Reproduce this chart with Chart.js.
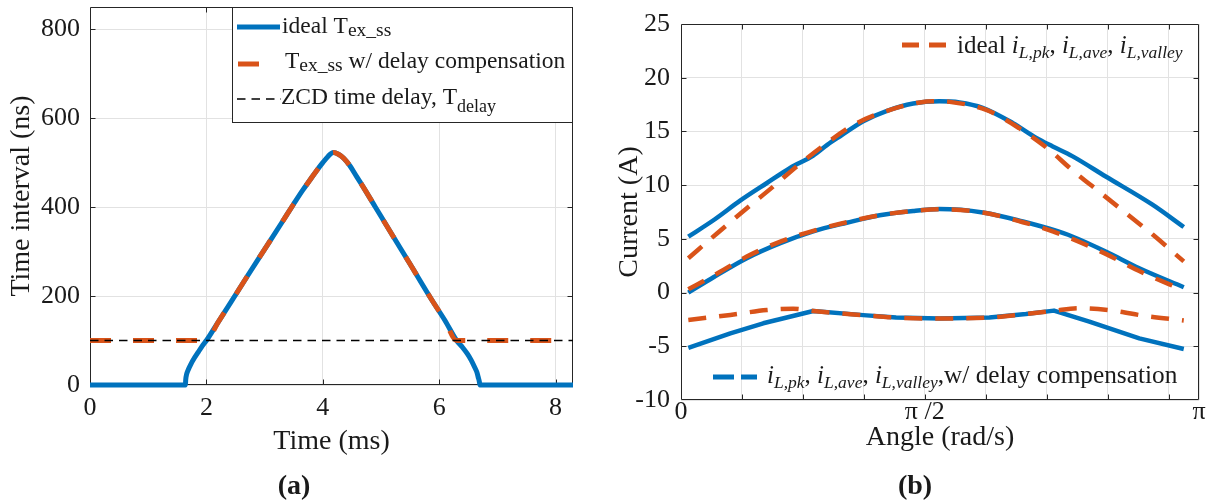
<!DOCTYPE html>
<html>
<head>
<meta charset="utf-8">
<title>Switching interval and inductor current</title>
<script src="https://cdn.jsdelivr.net/npm/chart.js@4.4.1/dist/chart.umd.min.js"></script>
<style>
  html, body { margin: 0; padding: 0; background: #fff; }
  #wrap { position: relative; width: 1211px; height: 504px; overflow: hidden; }
  #left { position: absolute; left: 0; top: 0; }
  #right { position: absolute; left: 600px; top: 0; }
</style>
</head>
<body>
<div id="wrap">
  <canvas id="left" width="600" height="504"></canvas>
  <canvas id="right" width="611" height="504"></canvas>
</div>
<script>
// ---- (a) extended switching interval over one half line cycle ----
const timeMs = [0, 1.64, 1.645, 1.66, 1.69, 1.73, 1.79, 1.86, 1.93, 2.00, 2.20, 2.43, 2.70, 3.00, 3.30, 3.50, 3.65, 3.78, 3.90, 4.00, 4.09, 4.18,
  4.27, 4.36, 4.46, 4.58, 4.72, 4.90, 5.20, 5.50, 5.88, 6.10, 6.30, 6.40, 6.48, 6.55, 6.61, 6.65, 6.67, 6.69, 6.70, 8.30];
const idealTexNs = [0, 0, 12, 24, 35, 46, 60, 74, 88, 100, 141, 188, 244, 305, 366, 407, 437, 461, 483, 500, 514, 523,
  519, 510, 494, 469, 440, 401, 336, 272, 190, 145, 100, 85, 71, 56, 40, 28, 18, 8, 0, 0];
const compTimeMs = [0, 2.00, 2.20, 2.43, 2.70, 3.00, 3.30, 3.50, 3.65, 3.78, 3.90, 4.00, 4.09, 4.18,
  4.27, 4.36, 4.46, 4.58, 4.72, 4.90, 5.20, 5.50, 5.88, 6.10, 6.30, 8.30];
const compTexNs = [100, 100, 141, 188, 244, 305, 366, 407, 437, 461, 483, 500, 514, 523,
  519, 510, 494, 469, 440, 401, 336, 272, 190, 145, 100, 100];
const delayTimeMs = [0, 8.30];
const delayNs = [100, 100];
const timeTicks = [0, 2, 4, 6, 8];
const intervalTicks = [0, 200, 400, 600, 800];

// ---- (b) inductor current envelopes ----
const compPkX = [0.12, 0.55, 0.97, 1.41, 1.79, 2.17, 2.40, 2.61, 2.99, 3.37, 3.81, 4.24, 4.57, 4.95, 5.44, 5.83, 6.10, 6.42, 6.97, 7.73, 8.25];
const compPkA = [5.2, 6.8, 8.55, 10.2, 11.6, 12.75, 13.75, 14.55, 15.95, 16.9, 17.6, 17.8, 17.7, 17.2, 15.8, 14.4, 13.6, 12.7, 10.8, 8.2, 6.1];
const idealPkX = [0.12, 0.59, 1.08, 1.52, 1.90, 2.39, 2.83, 3.37, 3.92, 4.20, 4.41, 5.01, 5.55, 6.04, 6.42, 6.86, 7.30, 7.74, 8.25];
const idealPkA = [3.2, 5.5, 7.85, 9.9, 11.75, 13.9, 15.6, 16.9, 17.7, 17.8, 17.75, 17.0, 15.3, 13.3, 11.4, 9.4, 7.4, 5.4, 2.9];
const compAveX = [0.12, 0.54, 1.08, 1.63, 2.17, 2.72, 3.26, 3.81, 4.24, 4.95, 5.61, 6.10, 6.42, 6.97, 7.52, 8.25];
const compAveA = [0.0, 1.45, 3.2, 4.6, 5.7, 6.5, 7.2, 7.6, 7.77, 7.46, 6.62, 5.85, 5.22, 3.82, 2.27, 0.5];
const idealAveX = [0.12, 0.54, 1.08, 1.63, 2.17, 2.72, 3.26, 3.81, 4.24, 4.95, 5.61, 6.10, 6.42, 6.97, 7.52, 8.25];
const idealAveA = [0.3, 1.6, 3.35, 4.75, 5.75, 6.55, 7.2, 7.6, 7.75, 7.45, 6.55, 5.7, 5.0, 3.6, 2.0, 0.2];
const compValleyX = [0.12, 0.81, 1.35, 2.17, 2.99, 3.53, 4.24, 5.06, 5.66, 6.12, 6.70, 7.52, 8.25];
const compValleyA = [-5.15, -3.8, -2.86, -1.71, -2.1, -2.33, -2.42, -2.32, -2.0, -1.68, -2.7, -4.26, -5.25];
const idealValleyX = [0.12, 0.81, 1.41, 1.84, 2.17, 2.99, 3.53, 4.24, 5.06, 5.66, 6.12, 6.53, 7.08, 7.62, 8.25];
const idealValleyA = [-2.55, -2.08, -1.62, -1.5, -1.72, -2.1, -2.33, -2.42, -2.32, -2.0, -1.7, -1.46, -1.68, -2.18, -2.6];
const angleTicks = [0, 1, 2, 3, 4, 5, 6, 7, 8, 8.5];
const angleTickText = ['0', '', '', '', 'π /2', '', '', '', '', 'π'];
const currentTicks = [-10, -5, 0, 5, 10, 15, 20, 25];

// ---- shared styling ----
const SERIF = "'Liberation Serif', 'Times New Roman', serif";
const INK = '#1a1a1a';
const BLUE = '#0072BD';
const ORANGE = '#D95319';
const GRID = '#e2e2e2';

const pts = (xs, ys) => xs.map((v, i) => ({ x: v, y: ys[i] }));

// Fixed axis footprint: no extra room reserved for edge labels
const fixSize = (key, size) => s => {
  s[key] = size;
  s.paddingTop = 0; s.paddingBottom = 0; s.paddingLeft = 0; s.paddingRight = 0;
};

// Box around the axes with short inward tick marks on all four sides
const axesBox = {
  id: 'axesBox',
  beforeDatasetsDraw(chart) {
    const { ctx, chartArea: a, scales: { x, y } } = chart;
    const L = Math.round(a.left) + 0.5, R = Math.round(a.right) - 0.5;
    const T = Math.round(a.top) + 0.5, B = Math.round(a.bottom) - 0.5;
    const len = 5;
    ctx.save();
    ctx.strokeStyle = '#262626';
    ctx.lineWidth = 1;
    ctx.beginPath();
    ctx.rect(L, T, R - L, B - T);
    x.ticks.forEach(t => {
      const p = Math.round(x.getPixelForValue(t.value)) + 0.5;
      if (p <= L + 1 || p >= R - 1) return;
      ctx.moveTo(p, B); ctx.lineTo(p, B - len);
      ctx.moveTo(p, T); ctx.lineTo(p, T + len);
    });
    y.ticks.forEach(t => {
      const p = Math.round(y.getPixelForValue(t.value)) + 0.5;
      if (p <= T + 1 || p >= B - 1) return;
      ctx.moveTo(L, p); ctx.lineTo(L + len, p);
      ctx.moveTo(R, p); ctx.lineTo(R - len, p);
    });
    ctx.stroke();
    ctx.restore();
  }
};

function strokeSample(ctx, x0, x1, y, color, width, dash) {
  ctx.save();
  ctx.strokeStyle = color;
  ctx.lineWidth = width;
  ctx.lineCap = 'butt';
  ctx.setLineDash(dash);
  ctx.beginPath();
  ctx.moveTo(x0, y);
  ctx.lineTo(x1, y);
  ctx.stroke();
  ctx.restore();
}

// Writes a run of text pieces (regular, italic, subscript) left to right on one baseline
function drawRuns(ctx, x, y, runs) {
  ctx.save();
  ctx.textAlign = 'left';
  ctx.textBaseline = 'alphabetic';
  ctx.fillStyle = INK;
  for (const r of runs) {
    ctx.font = r.f;
    ctx.fillText(r.t, x, y + (r.dy || 0));
    x += ctx.measureText(r.t).width;
  }
  ctx.restore();
  return x;
}

function caption(ctx, text, cx, cy) {
  ctx.save();
  ctx.font = `bold 28px ${SERIF}`;
  ctx.fillStyle = INK;
  ctx.textAlign = 'center';
  ctx.textBaseline = 'middle';
  ctx.fillText(text, cx, cy);
  ctx.restore();
}

const leftLegend = {
  id: 'leftLegend',
  afterDatasetsDraw(chart) {
    const ctx = chart.ctx;
    ctx.save();
    ctx.fillStyle = '#fff';
    ctx.fillRect(232.5, 7.5, 340, 115);
    ctx.strokeStyle = '#262626';
    ctx.lineWidth = 1;
    ctx.strokeRect(232.5, 7.5, 340, 115);
    ctx.restore();
    const main = `23.5px ${SERIF}`, sub = `19.5px ${SERIF}`, subD = `18px ${SERIF}`;
    strokeSample(ctx, 237, 280, 27, BLUE, 5, []);
    drawRuns(ctx, 282, 33, [{ t: 'ideal T', f: main }, { t: 'ex_ss', f: sub, dy: 3 }]);
    strokeSample(ctx, 238, 281, 64, ORANGE, 5, [21, 22]);
    drawRuns(ctx, 285, 68, [{ t: 'T', f: main }, { t: 'ex_ss', f: sub, dy: 3 }, { t: ' w/ delay compensation', f: main }]);
    strokeSample(ctx, 237, 281, 99, '#000', 1.5, [8.5, 6]);
    drawRuns(ctx, 281, 104, [{ t: 'ZCD time delay, T', f: main }, { t: 'delay', f: subD, dy: 8 }]);
  },
  afterDraw(chart) { caption(chart.ctx, '(a)', 294, 487); }
};

const rightLegend = {
  id: 'rightLegend',
  afterDatasetsDraw(chart) {
    const ctx = chart.ctx;
    const reg = `25px ${SERIF}`, it = `italic 25px ${SERIF}`, sub = `italic 17.5px ${SERIF}`;
    strokeSample(ctx, 302, 346, 45, ORANGE, 5, [17, 10]);
    drawRuns(ctx, 357, 53, [
      { t: 'ideal ', f: reg }, { t: 'i', f: it }, { t: 'L,pk', f: sub, dy: 5 }, { t: ', ', f: reg },
      { t: 'i', f: it }, { t: 'L,ave', f: sub, dy: 5 }, { t: ', ', f: reg },
      { t: 'i', f: it }, { t: 'L,valley', f: sub, dy: 5 }
    ]);
    const bigReg = `25.3px ${SERIF}`;
    strokeSample(ctx, 113, 157, 377, BLUE, 5, [21, 7]);
    drawRuns(ctx, 167, 383, [
      { t: 'i', f: it }, { t: 'L,pk', f: sub, dy: 5 }, { t: ', ', f: reg },
      { t: 'i', f: it }, { t: 'L,ave', f: sub, dy: 5 }, { t: ', ', f: reg },
      { t: 'i', f: it }, { t: 'L,valley', f: sub, dy: 5 }, { t: ',w/ delay compensation', f: bigReg }
    ]);
  },
  afterDraw(chart) { caption(chart.ctx, '(b)', 315, 487); }
};

const tickFont = { family: SERIF, size: 26 };
const titleFont = { family: SERIF, size: 28 };

const common = {
  responsive: false,
  animation: false,
  devicePixelRatio: 1,
  elements: { point: { radius: 0, hoverRadius: 0 }, line: { borderJoinStyle: 'round', fill: false } },
  plugins: { legend: { display: false }, tooltip: { enabled: false }, title: { display: false } },
  events: []
};

new Chart(document.getElementById('left'), {
  type: 'line',
  data: {
    datasets: [
      { label: 'ideal Tex_ss', data: pts(timeMs, idealTexNs), borderColor: BLUE, borderWidth: 5,
        cubicInterpolationMode: 'monotone', order: 3, clip: false },
      { label: 'Tex_ss w/ delay compensation', data: pts(compTimeMs, compTexNs), borderColor: ORANGE, borderWidth: 5,
        borderDash: [21, 22], cubicInterpolationMode: 'monotone', order: 2, clip: false },
      { label: 'ZCD time delay, Tdelay', data: pts(delayTimeMs, delayNs), borderColor: '#000', borderWidth: 1.5,
        borderDash: [8.5, 6], order: 1, clip: false }
    ]
  },
  options: {
    ...common,
    layout: { padding: { left: 0, right: 27, top: 7, bottom: 0 } },
    scales: {
      x: {
        type: 'linear', min: 0, max: 8.3,
        afterBuildTicks: s => { s.ticks = timeTicks.map(v => ({ value: v })); },
        afterFit: fixSize('height', 119),
        grid: { color: GRID, drawTicks: false },
        border: { display: false },
        ticks: { font: tickFont, color: INK, padding: 8, maxRotation: 0, autoSkip: false },
        title: { display: true, text: 'Time (ms)', font: titleFont, color: INK, padding: { top: 0, bottom: 46 } }
      },
      y: {
        type: 'linear', min: 0, max: 850,
        afterBuildTicks: s => { s.ticks = intervalTicks.map(v => ({ value: v })); },
        afterFit: fixSize('width', 90),
        grid: { color: GRID, drawTicks: false },
        border: { display: false },
        ticks: { font: tickFont, color: INK, padding: 10, autoSkip: false },
        title: { display: true, text: 'Time interval (ns)', font: titleFont, color: INK, padding: { top: 5, bottom: 0 } }
      }
    }
  },
  plugins: [axesBox, leftLegend]
});

new Chart(document.getElementById('right'), {
  type: 'line',
  data: {
    datasets: [
      { label: 'iL,pk w/ delay compensation', data: pts(compPkX, compPkA), borderColor: BLUE, borderWidth: 4.5,
        cubicInterpolationMode: 'monotone', order: 2 },
      { label: 'iL,ave w/ delay compensation', data: pts(compAveX, compAveA), borderColor: BLUE, borderWidth: 4.5,
        cubicInterpolationMode: 'monotone', order: 2 },
      { label: 'iL,valley w/ delay compensation', data: pts(compValleyX, compValleyA), borderColor: BLUE, borderWidth: 4.5,
        tension: 0, order: 2 },
      { label: 'ideal iL,pk', data: pts(idealPkX, idealPkA), borderColor: ORANGE, borderWidth: 4.5,
        borderDash: [18, 13], cubicInterpolationMode: 'monotone', order: 1 },
      { label: 'ideal iL,ave', data: pts(idealAveX, idealAveA), borderColor: ORANGE, borderWidth: 4.5,
        borderDash: [18, 13], cubicInterpolationMode: 'monotone', order: 1 },
      { label: 'ideal iL,valley', data: pts(idealValleyX, idealValleyA), borderColor: ORANGE, borderWidth: 4.5,
        borderDash: [18, 13], cubicInterpolationMode: 'monotone', order: 1 }
    ]
  },
  options: {
    ...common,
    layout: { padding: { left: 0, right: 12, top: 24, bottom: 0 } },
    scales: {
      x: {
        type: 'linear', min: 0, max: 8.5,
        afterBuildTicks: s => { s.ticks = angleTicks.map(v => ({ value: v })); },
        afterFit: fixSize('height', 104),
        grid: { color: GRID, drawTicks: false },
        border: { display: false },
        ticks: {
          font: tickFont, color: INK, padding: -3, maxRotation: 0, autoSkip: false,
          callback: v => angleTickText[angleTicks.indexOf(v)]
        },
        title: { display: true, text: 'Angle (rad/s)', font: titleFont, color: INK, padding: { top: 0, bottom: 50 } }
      },
      y: {
        type: 'linear', min: -10, max: 25,
        afterBuildTicks: s => { s.ticks = currentTicks.map(v => ({ value: v })); },
        afterFit: fixSize('width', 81),
        grid: { color: GRID, drawTicks: false },
        border: { display: false },
        ticks: { font: tickFont, color: INK, padding: 11, autoSkip: false },
        title: { display: true, text: 'Current (A)', font: titleFont, color: INK, padding: { top: 13, bottom: 0 } }
      }
    }
  },
  plugins: [axesBox, rightLegend]
});
</script>
</body>
</html>
